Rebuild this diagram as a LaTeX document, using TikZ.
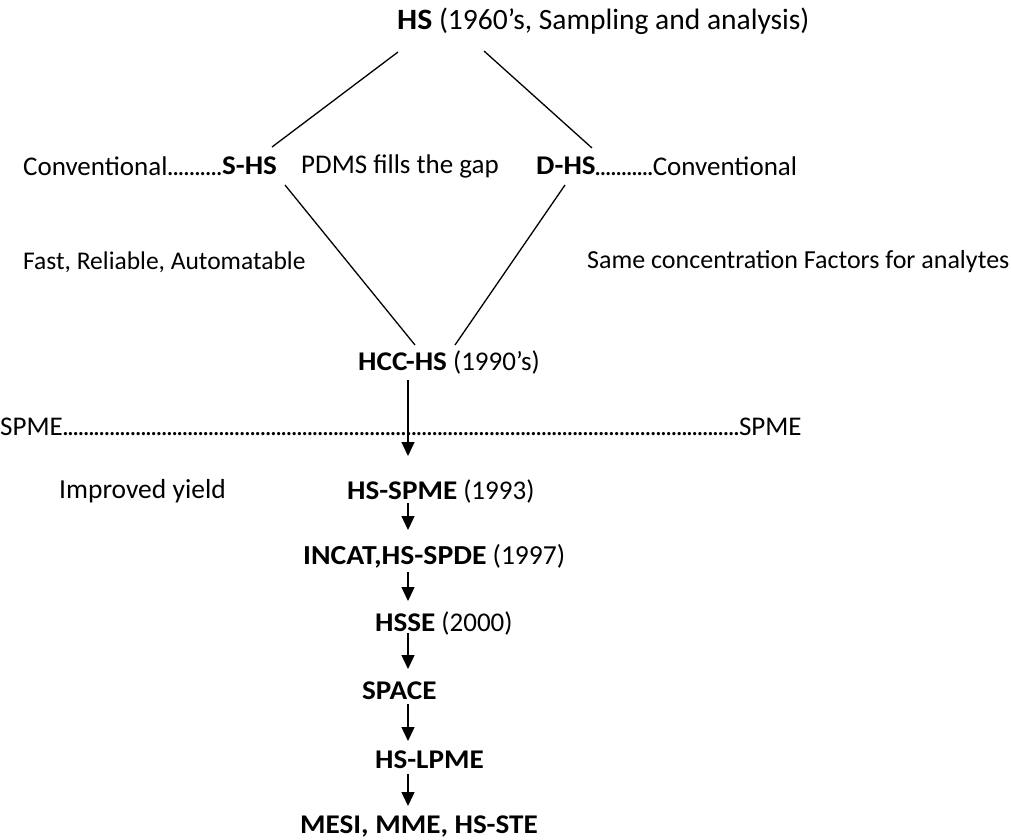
\documentclass[tikz,border=0pt]{standalone}
\usepackage{fontspec}
\setmainfont{Carlito}[BoldFeatures={FakeStretch=1.08}]
\usetikzlibrary{arrows.meta,calc}
\newcommand{\dotlead}{\xleaders\hbox to 5.2pt{\hss.\hss}\hfill}
\begin{document}
\begin{tikzpicture}[x=1pt,y=-1pt,
  lbl/.style={inner sep=0pt,font=\fontsize{27}{32}\selectfont,anchor=west},
  ln/.style={line width=1.3pt},
  arr/.style={line width=1.3pt,-{Triangle[length=14pt,width=13pt]}}]
\useasboundingbox (0,0) rectangle (1011,839);
\node[lbl,font=\fontsize{29.5}{34}\selectfont] (hs) at (397,21) {\textbf{HS} (1960’s, Sampling and analysis)};
\node[lbl] (convL) at (23,166) {\hbox to 199pt{Conventional\dotlead}};
\node[lbl] (shs) at (222,166) {\textbf{S-HS}};
\node[lbl] (pdms) at (301,166) {PDMS fills the gap};
\node[lbl] (dhs) at (536,166) {\textbf{D-HS}};
\node[lbl] (convR) at (595,166) {\hbox to 202pt{\dotlead Conventional}};
\node[lbl,font=\fontsize{25.5}{30}\selectfont] (fast) at (23,262) {Fast, Reliable, Automatable};
\node[lbl,font=\fontsize{26}{30}\selectfont] (same) at (587,262) {Same concentration Factors for analytes};
\node[lbl] (hcc) at (358,362) {\textbf{HCC-HS} (1990’s)};
\node[lbl] (spme) at (0,427) {\hbox to 803pt{SPME\dotlead SPME}};
\node[lbl,font=\fontsize{27.5}{32}\selectfont] (impr) at (59,491) {Improved yield};
\node[lbl] (hsspme) at (347,491) {\textbf{HS-SPME} (1993)};
\node[lbl,font=\fontsize{27.5}{32}\selectfont] (incat) at (303,556) {\textbf{INCAT,HS-SPDE} (1997)};
\node[lbl] (hsse) at (375,623) {\textbf{HSSE} (2000)};
\node[lbl] (space) at (362,691) {\textbf{SPACE}};
\node[lbl] (lpme) at (375,760) {\textbf{HS-LPME}};
\node[lbl] (mesi) at (300,826) {\textbf{MESI, MME, HS-STE}};
\coordinate (ax) at (408,0);
\draw[ln] ($(hs.west)+(1,31)$) -- ($(shs.west)+(50,-19)$);
\draw[ln] ($(hs.west)+(87,30)$) -- ($(dhs.west)+(56,-18)$);
\draw[ln] ($(shs.west)+(63,19)$) -- ($(hcc.west)+(57,-17)$);
\draw[ln] ($(dhs.west)+(29,19)$) -- ($(hcc.west)+(97,-17)$);
\draw[arr] ($(ax |- hcc.center)+(0,18)$) -- ($(ax |- hsspme.center)+(0,-35)$);
\draw[arr] ($(ax |- hsspme.center)+(0,12)$) -- ($(ax |- incat.center)+(0,-26)$);
\draw[arr] ($(ax |- incat.center)+(0,16)$) -- ($(ax |- hsse.center)+(0,-22)$);
\draw[arr] ($(ax |- hsse.center)+(0,10)$) -- ($(ax |- space.center)+(0,-22)$);
\draw[arr] ($(ax |- space.center)+(0,13)$) -- ($(ax |- lpme.center)+(0,-19)$);
\draw[arr] ($(ax |- lpme.center)+(0,14)$) -- ($(ax |- mesi.center)+(0,-20)$);
\end{tikzpicture}
\end{document}
